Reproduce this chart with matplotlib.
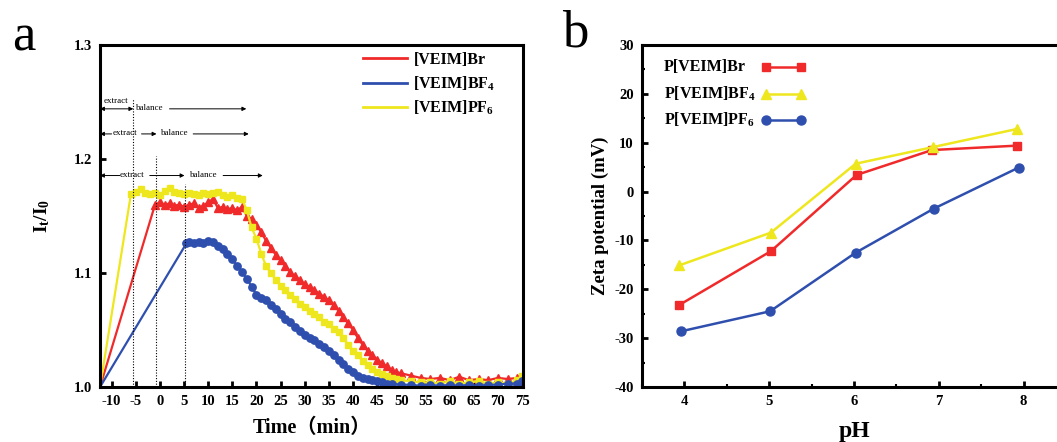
import matplotlib
matplotlib.use('Agg')
import matplotlib.pyplot as plt
from matplotlib.ticker import MultipleLocator

plt.rcParams['font.family'] = ['Liberation Serif', 'DejaVu Serif']
plt.rcParams['axes.unicode_minus'] = False
plt.rcParams['mathtext.fontset'] = 'custom'
plt.rcParams['mathtext.rm'] = 'Liberation Serif:bold'
plt.rcParams['mathtext.it'] = 'Liberation Serif:bold'
plt.rcParams['mathtext.bf'] = 'Liberation Serif:bold'

red = '#f02a2a'
yellow = '#eee71e'
blue = '#2f4fae'

# ---- panel a : It/I0 versus time ----
t_br = [-12.4, -1, 0, 1, 2, 3, 4, 5, 6, 7, 8, 9, 10, 11, 12, 13, 14, 15, 16, 17,
        18, 19, 20, 21, 22, 23, 24, 25, 26, 27, 28, 29, 30, 31, 32, 33, 34, 35,
        36, 37, 38, 39, 40, 41, 42, 43, 44, 45, 46, 47, 48, 49, 50, 52, 54, 56,
        58, 60, 62, 64, 66, 68, 70, 72, 74, 75]
i_br = [1.000, 1.160, 1.162, 1.160, 1.161, 1.159, 1.160, 1.158, 1.160, 1.161,
        1.157, 1.159, 1.162, 1.165, 1.157, 1.158, 1.156, 1.157, 1.155, 1.158,
        1.150, 1.147, 1.142, 1.136, 1.128, 1.122, 1.116, 1.111, 1.106, 1.101,
        1.097, 1.094, 1.090, 1.088, 1.085, 1.082, 1.079, 1.076, 1.072, 1.067,
        1.061, 1.056, 1.050, 1.043, 1.037, 1.032, 1.028, 1.024, 1.021, 1.018,
        1.015, 1.013, 1.012, 1.010, 1.008, 1.007, 1.008, 1.006, 1.009, 1.006,
        1.007, 1.006, 1.008, 1.007, 1.008, 1.009]

t_bf4 = [-12.4, 5.5, 6, 7, 8, 9, 10, 11, 12, 13, 14, 15, 16, 17, 18, 19, 20, 21,
         22, 23, 24, 25, 26, 27, 28, 29, 30, 31, 32, 33, 34, 35, 36, 37, 38, 39,
         40, 41, 42, 43, 44, 45, 46, 47, 48, 50, 52, 54, 56, 58, 60, 62, 64, 66,
         68, 70, 72, 74, 75]
i_bf4 = [1.000, 1.126, 1.127, 1.126, 1.127, 1.126, 1.128, 1.127, 1.124, 1.121,
         1.117, 1.112, 1.106, 1.101, 1.095, 1.088, 1.081, 1.078, 1.076, 1.072,
         1.068, 1.064, 1.060, 1.057, 1.053, 1.049, 1.046, 1.043, 1.041, 1.038,
         1.035, 1.032, 1.028, 1.024, 1.020, 1.016, 1.013, 1.010, 1.008, 1.007,
         1.006, 1.005, 1.004, 1.003, 1.003, 1.002, 1.002, 1.001, 1.002, 1.001,
         1.002, 1.001, 1.002, 1.001, 1.002, 1.002, 1.003, 1.003, 1.005]

t_pf6 = [-12.4, -6, -5, -4, -3, -2, -1, 0, 1, 2, 3, 4, 5, 6, 7, 8, 9, 10, 11, 12,
         13, 14, 15, 16, 17, 18, 19, 20, 21, 22, 23, 24, 25, 26, 27, 28, 29, 30,
         31, 32, 33, 34, 35, 36, 37, 38, 39, 40, 41, 42, 43, 44, 45, 46, 47, 48,
         49, 50, 52, 54, 56, 58, 60, 62, 64, 66, 68, 70, 72, 74, 75]
i_pf6 = [1.000, 1.169, 1.171, 1.174, 1.170, 1.169, 1.170, 1.168, 1.172, 1.175,
         1.171, 1.170, 1.169, 1.170, 1.169, 1.168, 1.170, 1.169, 1.170, 1.171,
         1.168, 1.167, 1.168, 1.166, 1.165, 1.155, 1.140, 1.130, 1.117, 1.106,
         1.100, 1.094, 1.089, 1.085, 1.081, 1.077, 1.073, 1.070, 1.067, 1.064,
         1.061, 1.057, 1.055, 1.051, 1.048, 1.043, 1.037, 1.032, 1.028, 1.023,
         1.019, 1.016, 1.013, 1.011, 1.010, 1.008, 1.007, 1.006, 1.005, 1.004,
         1.004, 1.003, 1.005, 1.003, 1.004, 1.005, 1.003, 1.004, 1.003, 1.006,
         1.010]

# dotted lines : x position and top
stage_x = [-5.5, -0.7, 5.3]
stage_top = [1.253, 1.203, 1.178]

# ---- panel b : zeta potential ----
ph_br = [3.94, 5.02, 6.03, 6.92, 7.92]
zeta_br = [-23.2, -12.2, 3.4, 8.5, 9.4]
ph_bf4 = [3.94, 5.02, 6.02, 6.93, 7.92]
zeta_bf4 = [-15.1, -8.4, 5.7, 9.1, 12.8]
ph_pf6 = [3.96, 5.01, 6.02, 6.94, 7.94]
zeta_pf6 = [-28.6, -24.5, -12.5, -3.5, 4.9]

fig = plt.figure(figsize=(10.57, 4.42), dpi=100)
ax = fig.add_axes([0.0946, 0.1244, 0.4002, 0.7738])
bx = fig.add_axes([0.6074, 0.1244, 0.4011, 0.7738])

ms = 4.8
ax.plot(t_br, i_br, color=red, lw=1.6, marker='^', ms=ms + 0.8, markevery=range(1, len(t_br)))
ax.plot(t_pf6, i_pf6, color=yellow, lw=1.6, marker='s', ms=ms, markevery=range(1, len(t_pf6)))
ax.plot(t_bf4, i_bf4, color=blue, lw=1.6, marker='o', ms=ms + 0.5, markevery=range(1, len(t_bf4)))

# legend with plain lines
h1, = ax.plot([], [], color=red, lw=2)
h2, = ax.plot([], [], color=blue, lw=2)
h3, = ax.plot([], [], color=yellow, lw=2)
ax.legend([h1, h2, h3], ['[VEIM]Br', '[VEIM]BF$_4$', '[VEIM]PF$_6$'],
          loc='upper left', bbox_to_anchor=(0.622, 0.98), frameon=False,
          borderpad=0, borderaxespad=0, handlelength=2.75, handletextpad=0.4,
          labelspacing=0.4, prop={'weight': 'bold', 'size': 11.5})

ax.vlines(stage_x, 1.0, stage_top, colors='black', linestyles=(0, (1, 1.5)), lw=0.8)

small = dict(fontsize=6.5, ha='center', va='center')
arr = dict(arrowstyle='-|>', lw=0.7, color='black', mutation_scale=6,
           shrinkA=0, shrinkB=0)
darr = dict(arr, arrowstyle='<|-|>')
# row 1
ax.annotate('', xy=(-5.5, 1.244), xytext=(-12.4, 1.244), arrowprops=darr)
ax.text(-9.2, 1.2505, 'extract', **small)
ax.text(-2.1, 1.2445, 'balance', **small)
ax.annotate('', xy=(17.9, 1.244), xytext=(2.0, 1.244), arrowprops=arr)
# row 2
ax.annotate('', xy=(-12.4, 1.222), xytext=(-10.0, 1.222), arrowprops=arr)
ax.text(-7.3, 1.2225, 'extract', **small)
ax.annotate('', xy=(-0.7, 1.222), xytext=(-3.8, 1.222), arrowprops=arr)
ax.text(3.1, 1.2225, 'balance', **small)
ax.annotate('', xy=(18.4, 1.222), xytext=(6.9, 1.222), arrowprops=arr)
# row 3
ax.annotate('', xy=(-12.4, 1.1855), xytext=(-8.3, 1.1855), arrowprops=arr)
ax.text(-5.7, 1.186, 'extract', **small)
ax.annotate('', xy=(5.1, 1.1855), xytext=(-2.1, 1.1855), arrowprops=arr)
ax.text(9.1, 1.186, 'balance', **small)
ax.annotate('', xy=(21.3, 1.1855), xytext=(13.1, 1.1855), arrowprops=arr)

ax.set_xlim(-12.4, 75.2)
ax.set_ylim(1.0, 1.3)
ax.set_xticks(range(-10, 76, 5))
ax.set_yticks([1.0, 1.1, 1.2, 1.3])
ax.yaxis.set_major_formatter(plt.FormatStrFormatter('%.1f'))
ax.set_xlabel('Time（min）', fontsize=14.5, fontweight='bold',
              family=['Liberation Serif', 'Noto Sans CJK SC'], labelpad=7)
ax.set_ylabel('I$_t$/I$_0$', fontsize=14, fontweight='bold', labelpad=15)

bx.plot(ph_br, zeta_br, color=red, lw=1.8, marker='s', ms=6)
bx.plot(ph_bf4, zeta_bf4, color=yellow, lw=1.8, marker='^', ms=7)
bx.plot(ph_pf6, zeta_pf6, color=blue, lw=1.8, marker='o', ms=6.5)

# legend of panel b drawn by hand: text left aligned, sample on the right
leg_rows = [('P[VEIM]Br', red, 's', 6), ('P[VEIM]BF$_4$', yellow, '^', 7),
            ('P[VEIM]PF$_6$', blue, 'o', 6.5)]
for k, (lab, col, mk, size) in enumerate(leg_rows):
    yy = 0.935 - k * 0.077
    bx.text(0.052, yy, lab, transform=bx.transAxes, fontsize=11.5,
            fontweight='bold', ha='left', va='center')
    bx.plot([0.292, 0.374], [yy, yy], transform=bx.transAxes, color=col,
            lw=1.8, marker=mk, ms=size, clip_on=False)

bx.set_xlim(3.5, 8.5)
bx.set_ylim(-40, 30)
bx.xaxis.set_major_locator(MultipleLocator(1))
bx.xaxis.set_minor_locator(MultipleLocator(0.5))
bx.yaxis.set_major_locator(MultipleLocator(10))
bx.yaxis.set_minor_locator(MultipleLocator(5))
bx.set_xlabel('pH', fontsize=17, fontweight='bold', labelpad=9)
bx.set_ylabel('Zeta potential (mV)', fontsize=13.5, fontweight='bold', labelpad=4)

for a in (ax, bx):
    for s in a.spines.values():
        s.set_linewidth(2.2)
    a.tick_params(which='major', direction='in', length=4, width=2, labelsize=10.5, pad=6)
    a.tick_params(which='minor', direction='in', length=2.5, width=1.5)
    for lab in a.get_xticklabels() + a.get_yticklabels():
        lab.set_fontweight('bold')
bx.spines['right'].set_visible(False)

fig.text(0.011, 0.885, 'a', fontsize=38)
fig.text(0.532, 0.895, 'b', fontsize=38)

fig.savefig('out.png', dpi=100)
